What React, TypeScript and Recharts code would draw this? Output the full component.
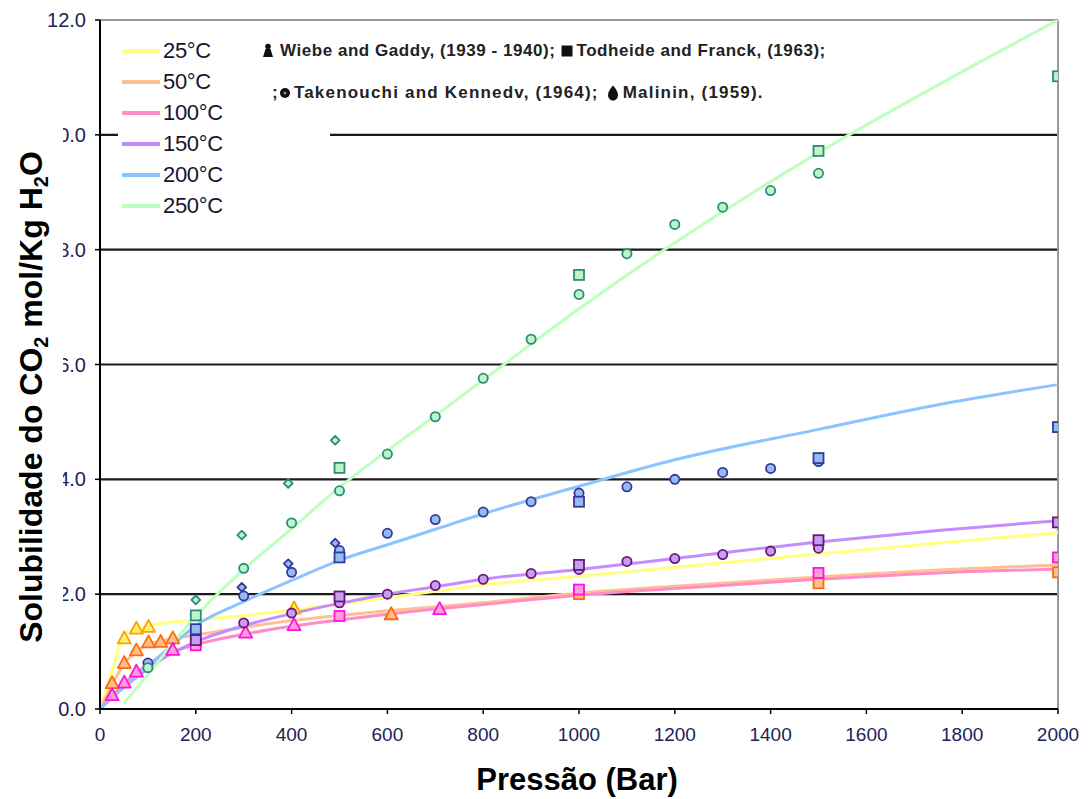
import React from 'react';
import { ComposedChart, Line, Scatter, XAxis, YAxis, ReferenceLine, Legend } from 'recharts';

// Pressure axis (bar) and solubility axis (mol CO2 / kg H2O)
const pressureTicks = [0, 200, 400, 600, 800, 1000, 1200, 1400, 1600, 1800, 2000];
const solubilityTicks = [0, 2, 4, 6, 8, 10, 12];
const gridValues = [2, 4, 6, 8, 10];

const temperatures = ['25°C', '50°C', '100°C', '150°C', '200°C', '250°C'];
const lineColors = ['#FFFF80', '#FFC090', '#FF8CC8', '#C68CFF', '#8CC4FF', '#BDFFBD'];

// Model curves
const curve25 = [
  { p: 0, v: 0 }, { p: 25, v: 0.65 }, { p: 50, v: 1.29 }, { p: 100, v: 1.45 }, { p: 200, v: 1.55 },
  { p: 300, v: 1.63 }, { p: 400, v: 1.72 }, { p: 500, v: 1.83 }, { p: 600, v: 1.94 }, { p: 700, v: 2.05 },
  { p: 800, v: 2.16 }, { p: 1000, v: 2.31 }, { p: 1200, v: 2.47 }, { p: 1500, v: 2.7 }, { p: 1750, v: 2.89 },
  { p: 2000, v: 3.07 },
];
const curve50 = [
  { p: 0, v: 0 }, { p: 25, v: 0.42 }, { p: 50, v: 0.78 }, { p: 75, v: 1.0 }, { p: 100, v: 1.12 },
  { p: 150, v: 1.22 }, { p: 200, v: 1.29 }, { p: 300, v: 1.42 }, { p: 400, v: 1.54 }, { p: 500, v: 1.63 },
  { p: 600, v: 1.71 }, { p: 800, v: 1.85 }, { p: 1000, v: 2.02 }, { p: 1200, v: 2.14 }, { p: 1500, v: 2.3 },
  { p: 1750, v: 2.42 }, { p: 2000, v: 2.51 },
];
const curve100 = [
  { p: 0, v: 0 }, { p: 25, v: 0.22 }, { p: 50, v: 0.44 }, { p: 75, v: 0.62 }, { p: 100, v: 0.78 },
  { p: 150, v: 0.99 }, { p: 200, v: 1.12 }, { p: 300, v: 1.3 }, { p: 400, v: 1.44 }, { p: 500, v: 1.55 },
  { p: 600, v: 1.65 }, { p: 800, v: 1.82 }, { p: 1000, v: 1.98 }, { p: 1200, v: 2.1 }, { p: 1500, v: 2.26 },
  { p: 1750, v: 2.37 }, { p: 2000, v: 2.44 },
];
const curve150 = [
  { p: 0, v: 0 }, { p: 25, v: 0.2 }, { p: 50, v: 0.38 }, { p: 100, v: 0.7 }, { p: 150, v: 0.97 },
  { p: 200, v: 1.17 }, { p: 300, v: 1.45 }, { p: 400, v: 1.66 }, { p: 500, v: 1.84 }, { p: 600, v: 2.0 },
  { p: 700, v: 2.13 }, { p: 800, v: 2.26 }, { p: 1000, v: 2.43 }, { p: 1200, v: 2.62 }, { p: 1500, v: 2.91 },
  { p: 1750, v: 3.11 }, { p: 2000, v: 3.28 },
];
const curve200 = [
  { p: 0, v: 0 }, { p: 25, v: 0.2 }, { p: 50, v: 0.38 }, { p: 100, v: 0.75 }, { p: 150, v: 1.1 },
  { p: 200, v: 1.45 }, { p: 300, v: 1.87 }, { p: 400, v: 2.24 }, { p: 500, v: 2.59 }, { p: 600, v: 2.86 },
  { p: 700, v: 3.13 }, { p: 800, v: 3.4 }, { p: 1000, v: 3.88 }, { p: 1200, v: 4.34 }, { p: 1500, v: 4.87 },
  { p: 1750, v: 5.3 }, { p: 2000, v: 5.65 },
];
const curve250 = [
  { p: 50, v: 0.1 }, { p: 100, v: 0.6 }, { p: 200, v: 1.62 }, { p: 300, v: 2.43 }, { p: 400, v: 3.14 },
  { p: 500, v: 3.86 }, { p: 600, v: 4.5 }, { p: 700, v: 5.11 }, { p: 800, v: 5.73 }, { p: 1000, v: 6.97 },
  { p: 1200, v: 8.12 }, { p: 1500, v: 9.69 }, { p: 1750, v: 10.87 }, { p: 2000, v: 12.0 },
];
const curves = [curve25, curve50, curve100, curve150, curve200, curve250];

// Experimental data: Wiebe and Gaddy (triangles)
const wiebe25 = [{ p: 50.7, v: 1.23 }, { p: 76, v: 1.4 }, { p: 101.3, v: 1.43 }, { p: 405, v: 1.75 }];
const wiebe50 = [
  { p: 25.3, v: 0.45 }, { p: 50.7, v: 0.8 }, { p: 76, v: 1.02 }, { p: 101.3, v: 1.16 },
  { p: 126.7, v: 1.17 }, { p: 152, v: 1.23 }, { p: 608, v: 1.65 },
];
const wiebe100 = [
  { p: 25.3, v: 0.24 }, { p: 50.7, v: 0.46 }, { p: 76, v: 0.65 }, { p: 152, v: 1.03 },
  { p: 304, v: 1.33 }, { p: 405, v: 1.46 }, { p: 709, v: 1.74 },
];

// Todheide and Franck (squares)
const todheide50 = [{ p: 1000, v: 2.0 }, { p: 1500, v: 2.19 }, { p: 2000, v: 2.38 }];
const todheide100 = [{ p: 200, v: 1.11 }, { p: 500, v: 1.62 }, { p: 1000, v: 2.08 }, { p: 1500, v: 2.37 }, { p: 2000, v: 2.64 }];
const todheide150 = [{ p: 200, v: 1.2 }, { p: 500, v: 1.96 }, { p: 1000, v: 2.51 }, { p: 1500, v: 2.94 }, { p: 2000, v: 3.25 }];
const todheide200 = [{ p: 200, v: 1.39 }, { p: 500, v: 2.64 }, { p: 1000, v: 3.61 }, { p: 1500, v: 4.37 }, { p: 2000, v: 4.91 }];
const todheide250 = [{ p: 200, v: 1.63 }, { p: 500, v: 4.2 }, { p: 1000, v: 7.56 }, { p: 1500, v: 9.72 }, { p: 2000, v: 11.02 }];

// Takenouchi and Kennedy (circles)
const takenouchi150 = [
  { p: 300, v: 1.5 }, { p: 400, v: 1.67 }, { p: 500, v: 1.85 }, { p: 600, v: 2.0 }, { p: 700, v: 2.15 },
  { p: 800, v: 2.26 }, { p: 900, v: 2.36 }, { p: 1000, v: 2.43 }, { p: 1100, v: 2.57 }, { p: 1200, v: 2.62 },
  { p: 1300, v: 2.69 }, { p: 1400, v: 2.75 }, { p: 1500, v: 2.8 },
];
const takenouchi200 = [
  { p: 100, v: 0.8 }, { p: 300, v: 1.97 }, { p: 400, v: 2.38 }, { p: 500, v: 2.76 }, { p: 600, v: 3.06 },
  { p: 700, v: 3.3 }, { p: 800, v: 3.43 }, { p: 900, v: 3.61 }, { p: 1000, v: 3.76 }, { p: 1100, v: 3.87 },
  { p: 1200, v: 4.0 }, { p: 1300, v: 4.12 }, { p: 1400, v: 4.19 }, { p: 1500, v: 4.31 },
];
const takenouchi250 = [
  { p: 100, v: 0.72 }, { p: 300, v: 2.45 }, { p: 400, v: 3.24 }, { p: 500, v: 3.8 }, { p: 600, v: 4.44 },
  { p: 700, v: 5.09 }, { p: 800, v: 5.76 }, { p: 900, v: 6.44 }, { p: 1000, v: 7.22 }, { p: 1100, v: 7.93 },
  { p: 1200, v: 8.44 }, { p: 1300, v: 8.74 }, { p: 1400, v: 9.03 }, { p: 1500, v: 9.33 },
];

// Malinin (diamonds)
const malinin200 = [{ p: 296, v: 2.12 }, { p: 393, v: 2.53 }, { p: 491, v: 2.89 }];
const malinin250 = [{ p: 200, v: 1.9 }, { p: 296, v: 3.03 }, { p: 393, v: 3.93 }, { p: 491, v: 4.68 }];

const markerStroke = { t25: '#FFA000', t50: '#FF6A10', t100: '#FF10E0', t150: '#6A1878', t200: '#38389A', t250: '#2A8C7C' };
const markerFill = { t25: '#FFF070', t50: '#FFC088', t100: '#FF9ED6', t150: '#C79CF2', t200: '#92BDF2', t250: '#BDF5C8' };

const triangle = (stroke: string, fill: string) => (props: any) => {
  const { cx, cy } = props;
  return (
    <polygon
      points={`${cx},${cy - 7} ${cx + 6.5},${cy + 5} ${cx - 6.5},${cy + 5}`}
      fill={fill}
      stroke={stroke}
      strokeWidth={1.8}
      strokeLinejoin="round"
    />
  );
};
const square = (stroke: string, fill: string) => (props: any) => {
  const { cx, cy } = props;
  return <rect x={cx - 5} y={cy - 5} width={10} height={10} fill={fill} stroke={stroke} strokeWidth={1.8} />;
};
const circle = (stroke: string, fill: string) => (props: any) => {
  const { cx, cy } = props;
  return <circle cx={cx} cy={cy} r={4.6} fill={fill} stroke={stroke} strokeWidth={1.8} />;
};
const diamond = (stroke: string, fill: string) => (props: any) => {
  const { cx, cy } = props;
  return (
    <polygon
      points={`${cx},${cy - 4.4} ${cx + 4.4},${cy} ${cx},${cy + 4.4} ${cx - 4.4},${cy}`}
      fill={fill}
      stroke={stroke}
      strokeWidth={1.8}
      strokeLinejoin="round"
    />
  );
};

const LineLegend = () => (
  <div style={{ background: '#fff', width: 212, height: 182 }}>
    {temperatures.map((t, i) => (
      <div key={t} style={{ display: 'flex', alignItems: 'center', height: 31 }}>
        <div style={{ width: 38, height: 4, marginLeft: 4, background: lineColors[i] }} />
        <span style={{ fontSize: 22, color: '#1a1430', marginLeft: 3, letterSpacing: -0.3 }}>{t}</span>
      </div>
    ))}
  </div>
);

const Pawn = () => (
  <svg width="12" height="15" style={{ marginRight: 6, verticalAlign: '-2px' }}>
    <circle cx="6" cy="3.5" r="2.8" fill="#111" />
    <path d="M3.5 6 L8.5 6 L11 14 L1 14 Z" fill="#111" />
  </svg>
);
const SquareIcon = () => (
  <svg width="12" height="12" style={{ margin: '0 3px 0 6px', verticalAlign: '-1px' }}>
    <rect x="0.5" y="0.5" width="11" height="11" fill="#111" />
  </svg>
);
const DotIcon = () => (
  <svg width="12" height="12" style={{ marginRight: 3, verticalAlign: '-1px' }}>
    <circle cx="6" cy="6" r="5" fill="#111" />
    <circle cx="6" cy="6" r="1.6" fill="#888" />
  </svg>
);
const DropIcon = () => (
  <svg width="12" height="16" style={{ margin: '0 4px 0 8px', verticalAlign: '-3px' }}>
    <path d="M6 0.5 C9 4 11 7 11 10 C11 13.5 8.5 15.5 6 15.5 C3.5 15.5 1 13.5 1 10 C1 7 3 4 6 0.5 Z" fill="#111" />
  </svg>
);

const sourceText: React.CSSProperties = {
  position: 'absolute',
  fontSize: 17,
  fontWeight: 'bold',
  color: '#222',
  whiteSpace: 'nowrap',
  background: '#fff',
};

export default function App() {
  const xAxisTick = { fontSize: 19, fill: '#1c2258' };
  const yAxisTick = { fontSize: 20, fill: '#1c2258' };
  return (
    <div
      style={{
        position: 'absolute',
        left: 0,
        top: 0,
        width: 1089,
        height: 799,
        background: '#fff',
        fontFamily: 'Arial, "Liberation Sans", sans-serif',
        overflow: 'hidden',
      }}
    >
      <ComposedChart width={1089} height={799} margin={{ top: 20, right: 31, bottom: 0, left: 0 }}>
        <XAxis
          type="number"
          dataKey="p"
          domain={[0, 2000]}
          ticks={pressureTicks}
          height={90}
          tickSize={5}
          tickMargin={14}
          tick={xAxisTick}
          axisLine={{ stroke: '#000', strokeWidth: 2 }}
          tickLine={{ stroke: '#000', strokeWidth: 1.5 }}
          allowDataOverflow
        />
        <YAxis
          type="number"
          dataKey="v"
          domain={[0, 12]}
          ticks={solubilityTicks}
          width={100}
          tickSize={5}
          tickMargin={9}
          tick={yAxisTick}
          tickFormatter={(v: number) => v.toFixed(1)}
          axisLine={{ stroke: '#000', strokeWidth: 2 }}
          tickLine={{ stroke: '#000', strokeWidth: 1.5 }}
          allowDataOverflow
        />
        {gridValues.map((g) => (
          <ReferenceLine key={g} y={g} stroke="#1a1a1a" strokeWidth={2.2} />
        ))}
        <ReferenceLine y={12} stroke="#999" strokeWidth={2} />
        <ReferenceLine x={2000} stroke="#999" strokeWidth={2} />

        {curves.map((c, i) => (
          <Line
            key={temperatures[i]}
            data={c}
            dataKey="v"
            name={temperatures[i]}
            type="monotone"
            stroke={lineColors[i]}
            strokeWidth={3}
            dot={false}
            activeDot={false}
            isAnimationActive={false}
          />
        ))}

        <Scatter data={wiebe25} dataKey="v" shape={triangle(markerStroke.t25, markerFill.t25)} isAnimationActive={false} />
        <Scatter data={wiebe50} dataKey="v" shape={triangle(markerStroke.t50, markerFill.t50)} isAnimationActive={false} />
        <Scatter data={wiebe100} dataKey="v" shape={triangle(markerStroke.t100, markerFill.t100)} isAnimationActive={false} />

        <Scatter data={malinin200} dataKey="v" shape={diamond(markerStroke.t200, markerFill.t200)} isAnimationActive={false} />
        <Scatter data={malinin250} dataKey="v" shape={diamond(markerStroke.t250, markerFill.t250)} isAnimationActive={false} />

        <Scatter data={takenouchi150} dataKey="v" shape={circle(markerStroke.t150, markerFill.t150)} isAnimationActive={false} />
        <Scatter data={takenouchi200} dataKey="v" shape={circle(markerStroke.t200, markerFill.t200)} isAnimationActive={false} />
        <Scatter data={takenouchi250} dataKey="v" shape={circle(markerStroke.t250, markerFill.t250)} isAnimationActive={false} />

        <Scatter data={todheide50} dataKey="v" shape={square(markerStroke.t50, markerFill.t50)} isAnimationActive={false} />
        <Scatter data={todheide100} dataKey="v" shape={square(markerStroke.t100, markerFill.t100)} isAnimationActive={false} />
        <Scatter data={todheide150} dataKey="v" shape={square(markerStroke.t150, markerFill.t150)} isAnimationActive={false} />
        <Scatter data={todheide200} dataKey="v" shape={square(markerStroke.t200, markerFill.t200)} isAnimationActive={false} />
        <Scatter data={todheide250} dataKey="v" shape={square(markerStroke.t250, markerFill.t250)} isAnimationActive={false} />

        <Legend
          layout="vertical"
          align="center"
          verticalAlign="middle"
          content={() => <LineLegend />}
          wrapperStyle={{ left: 118, top: 35, width: 212, height: 182 }}
        />
      </ComposedChart>

      {/* data source key */}
      <div style={{ ...sourceText, left: 262, top: 41, letterSpacing: 0.55 }}>
        <Pawn />Wiebe and Gaddy, (1939 - 1940);<SquareIcon />Todheide and Franck, (1963);
      </div>
      <div style={{ ...sourceText, left: 272, top: 83, letterSpacing: 1.2 }}>
        ;<DotIcon />Takenouchi and Kennedv, (1964);<DropIcon />Malinin, (1959).
      </div>

      {/* axis titles */}
      <div
        style={{
          position: 'absolute',
          left: 0,
          top: 0,
          transform: 'translate(31.5px, 397px) translate(-50%, -50%) rotate(-90deg)',
          fontSize: 32,
          fontWeight: 'bold',
          lineHeight: '63px',
          height: 63,
          padding: '0 34px',
          whiteSpace: 'nowrap',
          background: '#fff',
          color: '#000',
        }}
      >
        Solubilidade do CO<sub style={{ fontSize: 20, verticalAlign: '-6px', lineHeight: 0 }}>2</sub> mol/Kg H
        <sub style={{ fontSize: 20, verticalAlign: '-6px', lineHeight: 0 }}>2</sub>O
      </div>
      <div
        style={{
          position: 'absolute',
          left: 577,
          top: 762,
          transform: 'translateX(-50%)',
          fontSize: 31,
          fontWeight: 'bold',
          whiteSpace: 'nowrap',
          color: '#000',
          lineHeight: '36px',
        }}
      >
        Pressão (Bar)
      </div>
    </div>
  );
}
